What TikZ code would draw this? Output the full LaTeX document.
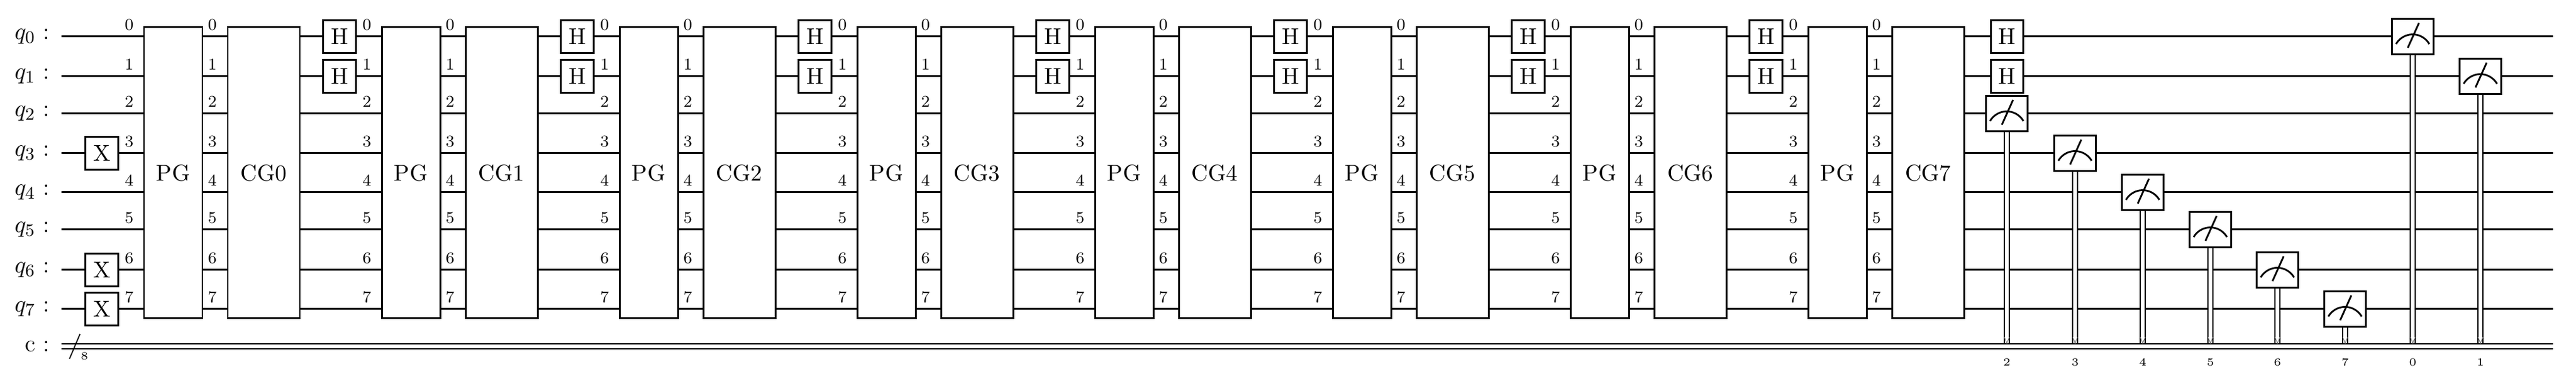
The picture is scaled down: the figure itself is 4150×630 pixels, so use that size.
\documentclass[tikz,border=0pt]{standalone}
\begin{document}
\begin{tikzpicture}[x=0.1mm,y=-0.1mm,line width=0.85pt,
  gate/.style={draw,fill=white,inner sep=0pt,font=\fontsize{10.5}{12}\selectfont},
  idx/.style={inner sep=0pt,font=\fontsize{7.5}{8}\selectfont},
  meas/.style={draw,fill=white,inner sep=0pt,minimum width=6.7mm,minimum height=5.7mm},
  clab/.style={inner sep=0pt,font=\fontsize{5}{6}\selectfont}]
\useasboundingbox (0,0) rectangle (4150,630);
% wires
\foreach \i/\y in {0/59,1/123,2/183,3/247,4/310,5/370,6/435,7/498}{
  \coordinate (ws\i) at (99,\y); \coordinate (we\i) at (4113,\y);
  \draw (ws\i) -- (we\i);
  \node[anchor=east,inner sep=0pt,font=\fontsize{11}{12}\selectfont] (lq\i) at (82,\y) {$q_{\i}$ :};
}
\coordinate (cs) at (99,558); \coordinate (ce) at (4113,558);
\draw[double distance=0.55mm,line width=0.7pt] (cs) -- (ce);
\node[anchor=east,inner sep=0pt,font=\fontsize{11}{12}\selectfont] (lc) at (82,558) {c :};
\draw[line width=0.5pt] (112,578) -- (129,538);
\node[clab] (n8) at (136,574) {8};
% X gates
\foreach \i/\y in {3/247,6/435,7/498}{
  \node[gate,minimum width=5.3mm,minimum height=5.3mm] (x\i) at (164,\y) {X};
}
% blocks
\foreach \k in {0,...,7}{
  \pgfmathsetmacro{\o}{383*\k}
  \node[gate,minimum width=9.4mm,minimum height=46.9mm] (pg\k) at (279+\o,278.5) {PG};
  \node[gate,minimum width=11.6mm,minimum height=46.9mm] (cg\k) at (425+\o,278.5) {CG\k};
  \foreach \i/\y in {0/59,1/123,2/183,3/247,4/310,5/370,6/435,7/498}{
    \node[idx] (a\k\i) at (208+\o,\y-19) {\i};
    \node[idx] (b\k\i) at (342+\o,\y-19) {\i};
  }
}
\foreach \k in {0,...,6}{
  \pgfmathsetmacro{\o}{383*\k}
  \node[gate,minimum width=5.3mm,minimum height=5.3mm] (h\k a) at (547+\o,59) {H};
  \node[gate,minimum width=5.3mm,minimum height=5.3mm] (h\k b) at (547+\o,123) {H};
}
\node[gate,minimum width=5.2mm,minimum height=5.3mm] (hfa) at (3233,59) {H};
\node[gate,minimum width=5.2mm,minimum height=5.3mm] (hfb) at (3233,123) {H};
% measurements
\foreach \q/\x/\y in {2/3233/183,3/3343/247,4/3452/310,5/3561/370,6/3669/435,7/3778/498,0/3887/59,1/3996/123}{
  \coordinate (cb\q) at (\x,553);
  \draw[double distance=0.55mm,line width=0.6pt] (\x,\y) -- (cb\q);
  \node[meas] (m\q) at (\x,\y) {};
  \draw[line width=0.8pt] ([shift={(-27,12)}]m\q.center) arc[start angle=150,end angle=30,radius=3.1mm];
  \draw[line width=0.8pt] ([shift={(-8,18)}]m\q.center) -- ([shift={(10,-22)}]m\q.center);
  \draw[line width=0.3pt,gray] ([shift={(-4,-10)}]cb\q) -- (cb\q) -- ([shift={(4,-10)}]cb\q);
  \node[clab] (cl\q) at (\x,584) {\q};
}
\end{tikzpicture}
\end{document}
